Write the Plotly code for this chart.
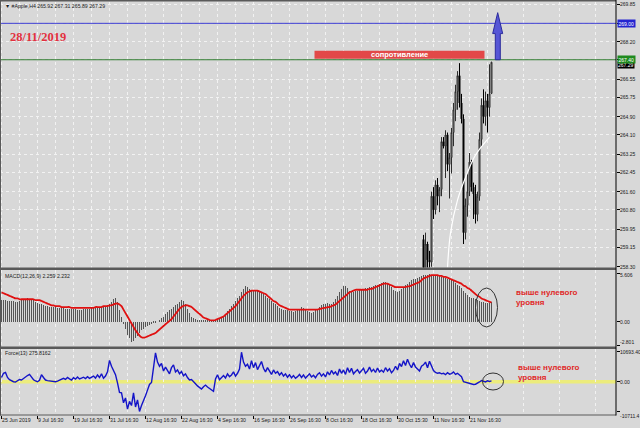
import plotly.graph_objects as go

# ---------------- data ----------------
# time axis labels (one label every 18 H4 bars)
tick_bars = [0, 18, 36, 54, 72, 90, 108, 126, 144, 162, 180, 198, 216, 234]
tick_labels = ["25 Jun 2019", "9 Jul 16:30", "19 Jul 16:30", "31 Jul 16:30",
               "12 Aug 16:30", "22 Aug 16:30", "4 Sep 16:30", "16 Sep 16:30",
               "26 Sep 16:30", "8 Oct 16:30", "18 Oct 16:30", "30 Oct 15:30",
               "11 Nov 16:30", "21 Nov 16:30"]

# price axis levels
price_levels = [269.85, 269.00, 268.20, 267.40, 266.55, 265.75, 264.90, 264.10,
                263.25, 262.45, 261.60, 260.80, 259.95, 259.15, 258.30]
macd_levels = [5.606, 0.0, -2.801]
macd_level_text = ["5.606", "0.00", "-2.801"]
force_levels = [10693.40, 0.0, -10711.4]
force_level_text = ["10693.40", "0.00", "-10711.4"]

# visible candles (bar index of the first one)
candle_start = 211
c_open = [259.5, 258.2, 259.3, 258.6, 258.5, 261.4, 260.8, 261.9, 261.4, 261.7,
          263.8, 263.6, 264.1, 262.8, 263.1, 264.2, 265.2, 266.0, 266.7, 265.5,
          264.8, 259.8, 261.0, 261.6, 262.9, 261.8, 261.5, 260.6, 261.4, 263.9,
          265.4, 264.9, 265.6, 265.3, 265.92]
c_high = [259.7, 259.8, 259.4, 259.0, 261.6, 261.8, 262.1, 262.2, 261.8, 264.0,
          264.0, 264.3, 264.2, 263.3, 264.4, 265.5, 266.3, 266.9, 267.25, 265.9,
          265.0, 261.3, 262.4, 263.3, 263.0, 262.0, 261.9, 261.6, 264.2, 265.7,
          266.1, 266.0, 265.9, 267.2, 267.31]
c_low = [257.9, 257.9, 258.0, 258.1, 258.3, 260.4, 260.6, 261.0, 260.7, 261.4,
         263.5, 262.2, 262.5, 261.3, 262.4, 263.6, 264.7, 265.2, 265.3, 264.6,
         259.3, 259.5, 260.5, 261.4, 261.6, 260.4, 260.2, 260.3, 261.2, 263.6,
         264.6, 264.5, 264.2, 264.9, 265.89]
c_close = [258.2, 259.3, 258.6, 258.5, 261.4, 260.8, 261.9, 261.4, 261.7, 263.8,
           263.6, 264.1, 262.8, 263.1, 264.2, 265.2, 266.0, 266.7, 265.5, 264.8,
           259.8, 261.0, 261.6, 262.9, 261.8, 261.5, 260.6, 261.4, 263.9, 265.4,
           264.9, 265.6, 265.3, 265.9, 267.29]

# white trend curve under the late-November rally
trend_bars = [223, 224.5, 228, 232.5, 237, 244]
trend_price = [258.25, 259.78, 261.23, 262.33, 263.21, 264.0]

# MACD(12,26,9) histogram
macd_hist = [
    2.5, 2.5, 2.5, 2.4, 2.4, 2.4, 2.4, 2.3, 2.3, 2.4,
    2.5, 2.6, 2.6, 2.7, 2.6, 2.6, 2.5,
    2.3, 2.2, 2.1, 2.0, 1.9,
    1.8, 1.8, 1.7, 1.7, 1.7, 1.7, 1.6, 1.6, 1.6, 1.6, 1.5, 1.5, 1.5, 1.5, 1.5, 1.5,
    1.4, 1.4, 1.4, 1.5, 1.5, 1.5, 1.5, 1.6, 1.6, 1.6, 1.6, 1.7, 1.7, 1.8, 1.8, 1.9, 2.0,
    2.3, 2.6, 2.7, 2.3,
    1.4, 0.6, -0.3, -0.9,
    -1.5, -1.9, -2.3, -2.2, -1.9, -1.6,
    -1.3, -1.0, -0.8, -0.6, -0.5, -0.4, -0.3, -0.2, -0.1, 0.0,
    0.2, 0.4, 0.6, 0.9, 1.1, 1.3, 1.5, 1.7, 1.9, 2.1, 2.3, 2.5, 2.4,
    2.0, 1.5, 1.0, 0.6, 0.4, 0.3, 0.2, 0.2, 0.1,
    0.1, 0.1, 0.2, 0.2, 0.2, 0.1, 0.1, 0.2, 0.3, 0.4,
    0.6, 0.9, 1.2, 1.5, 1.8, 2.1, 2.4, 2.7, 3.0, 3.4, 3.8, 4.1,
    4.0, 3.8, 3.7, 3.6, 3.6, 3.5, 3.4, 3.3, 3.2, 3.0,
    2.8, 2.6, 2.4, 2.2, 2.0, 1.8, 1.6, 1.5, 1.4, 1.3, 1.3, 1.2, 1.2, 1.1,
    1.2, 1.3, 1.5, 1.7, 1.6, 1.4, 1.2, 1.1, 1.0, 1.1, 1.3, 1.5,
    1.7, 1.9, 2.0, 2.1, 2.2, 2.0, 2.1, 2.3, 2.6, 3.0, 3.4, 3.8,
    4.1, 4.1, 3.9, 3.6, 3.5, 3.4,
    3.5, 3.6, 3.7, 3.7, 3.8, 3.9, 3.9, 4.0, 4.0, 4.1,
    4.2, 4.3, 4.4, 4.5, 4.6, 4.6, 4.5,
    4.3, 4.0, 3.7, 3.5, 3.4, 3.6,
    3.8, 4.0, 4.2, 4.4, 4.6, 4.8, 4.9, 5.0, 5.1,
    5.2, 5.3, 5.4, 5.4, 5.4, 5.5, 5.4, 5.4, 5.3, 5.3, 5.3,
    5.2, 5.2, 5.1, 5.0, 4.9, 4.8, 4.7, 4.5, 4.3, 4.1,
    3.9, 3.6, 3.3, 3.1, 2.9, 2.8, 2.7, 2.6,
    2.5, 2.4, 2.3, 2.3, 2.2, 2.2, 2.2, 2.259,
]

# MACD signal line
macd_signal = [
    3.4, 3.3, 3.2, 3.1, 3.0, 2.9, 2.8, 2.7, 2.7, 2.6, 2.6,
    2.6, 2.6, 2.6, 2.6, 2.6, 2.6, 2.5, 2.5, 2.5, 2.4, 2.3,
    2.2, 2.1, 2.0, 1.9, 1.9, 1.8, 1.8, 1.8, 1.7,
    1.7, 1.7, 1.7, 1.7, 1.6, 1.6, 1.6, 1.6, 1.6, 1.6, 1.6, 1.6, 1.6, 1.6, 1.6, 1.6,
    1.7, 1.7, 1.7, 1.7, 1.8, 1.8, 1.8, 1.9,
    1.9, 2.0, 2.1, 2.1, 2.0, 1.8,
    1.4, 1.0, 0.6, 0.2, -0.2, -0.6, -1.0, -1.3, -1.6, -1.8,
    -1.85, -1.8, -1.7, -1.6, -1.5, -1.4,
    -1.3, -1.1, -0.9, -0.7, -0.5, -0.3, -0.1, 0.1,
    0.3, 0.6, 0.9, 1.2, 1.5, 1.7, 1.85, 1.9,
    1.9, 1.8, 1.7, 1.5, 1.3, 1.1, 0.9, 0.7,
    0.5, 0.4, 0.3, 0.2, 0.15, 0.15, 0.2, 0.3, 0.4, 0.5,
    0.6, 0.8, 1.0, 1.2, 1.4, 1.6, 1.8, 2.1, 2.4, 2.7, 3.0, 3.2,
    3.4, 3.5, 3.6, 3.6, 3.6, 3.6, 3.5, 3.4,
    3.3, 3.2, 3.0, 2.8, 2.6, 2.4, 2.3, 2.1, 1.9, 1.8, 1.7, 1.6, 1.5, 1.4, 1.4,
    1.4, 1.4, 1.4, 1.4, 1.4, 1.4, 1.4, 1.4, 1.4, 1.4, 1.4, 1.4, 1.4, 1.5, 1.5,
    1.6, 1.6, 1.7, 1.7, 1.8, 1.9, 2.0, 2.2, 2.4, 2.6,
    2.8, 3.0, 3.2, 3.4, 3.5, 3.6, 3.7, 3.7, 3.7,
    3.7, 3.7, 3.7, 3.7, 3.8, 3.8, 3.9, 4.0, 4.1, 4.2, 4.3,
    4.4, 4.4, 4.4, 4.3, 4.2, 4.1, 4.0, 4.0, 4.0,
    4.0, 4.0, 4.0, 4.1, 4.1, 4.2, 4.3, 4.4, 4.5, 4.6, 4.8,
    5.0, 5.1, 5.2, 5.3, 5.4, 5.4, 5.4, 5.4, 5.3, 5.3,
    5.2, 5.2, 5.1, 5.0, 4.9, 4.8, 4.7, 4.6, 4.5, 4.4,
    4.2, 4.1, 3.9, 3.8, 3.6, 3.4, 3.2, 3.0, 2.9, 2.7, 2.6, 2.5, 2.4, 2.3, 2.232,
]

# Force Index(13)
force = [
    1500, 3000, 3300, 1500, 700, 200, 0, -100, 300, 800,
    600, 1200, 1500, 2200, 2600, 1500, 700, 300, 0, 500,
    2500, 1500, 600, 400, 300, 200, 100, 0, 200, 500,
    900, 1200, 800, 1500, 1000, 600, 1400, 900, 1700, 1000,
    1300, 1600, 1100, 1800, 1200, 1500, 2000, 1300, 2400, 1500,
    2800, 1200, 2000, 3500, 7600, 5500, 3700, 2500, -400, -3800,
    -4000, -7500, -5800, -9800, -7000, -8500, -4000, -9000, -6500, -10600,
    -8500, -7000, -5000, -3000, -1000, -300, 6000, 10300, 7000, 5500,
    6500, 3800, 5200, 4000, 2800, 5000, 6000, 3500, 4200, 2800,
    3600, 2100, 2800, 1500, 600, 800, 200, -700, -1500, -2100,
    -2600, -1800, -1200, -1900, -2300, -2800, -3400, 1000, 2500, 700,
    1500, 2200, 1300, 2800, 1800, 2400, 3500, 2000, 3000, 4500,
    10500, 7000, 5500, 6200, 4500, 7500, 5000, 6800, 4300, 5800,
    7200, 4800, 3500, 5000, 3800, 2600, 4200, 3000, 3600, 2400,
    3200, 2000, 2800, 1600, 2500, 1400, 2200, 1200, 1800, 2600,
    1500, 2400, 1300, 2000, 2800, 1700, 2300, 1400, 2600, 3200,
    2000, 2800, 1700, 3500, 2400, 4000, 2800, 3500, 2200, 4500,
    3000, 4200, 2600, 5000, 3300, 4800, 2800, 3600, 4300, 3100,
    4000, 4800, 3000, 3800, 5200, 3600, 4400, 3300, 4900, 3500,
    4100, 3400, 5000, 3800, 4600, 3200, 4000, 5500, 4200, 6500,
    5400, 7500, 5800, 8000, 6200, 5000, 6800, 5200, 4500, 3800,
    5500, 6000, 7000, 5000, 7300, 5300, 4000, 3300, 3000, 3200,
    2800, 3000, 2500, 3200, 2700, 2900, 3500, 2600, 3000, 2400,
    1800, 0, -200, -400, -700, -900, -1000, -900, -600, -100,
    400, 200, -100, 300, 100, 275.8162,
]

support_level = 267.40
target_level = 269.00

# ---------------- layout helpers ----------------
W, H = 640, 428
BG = "#d8d8d8"
GRID = "#f2f2f2"
XD = 616 / W          # right edge of the plotting area


def fy(py):
    return 1 - py / H


def fx(px):
    return px / W


MAIN_DOM = [fy(267.5), fy(1.5)]
MACD_DOM = [fy(346.5), fy(270)]
FORCE_DOM = [fy(414.5), fy(349)]

MAIN_RANGE = [258.267, 269.96]
MACD_RANGE = [-2.870, 5.988]
FORCE_RANGE = [-11692, 11656]
X_RANGE = [-0.75, 307.25]

bars = list(range(len(macd_hist)))
candle_x = [candle_start + k for k in range(len(c_open))]

FONT = "Liberation Sans"
LABEL_FONT = dict(family=FONT, size=5, color="#1a1a1a")

fig = go.Figure()

fig.add_trace(go.Candlestick(
    x=candle_x, open=c_open, high=c_high, low=c_low, close=c_close,
    xaxis="x3", yaxis="y",
    increasing=dict(line=dict(color="#2e2e2e", width=1), fillcolor="#a6a6a6"),
    decreasing=dict(line=dict(color="#000000", width=1), fillcolor="#000000"),
    whiskerwidth=0, showlegend=False, hoverinfo="skip",
))
fig.add_trace(go.Scatter(
    x=trend_bars, y=trend_price, xaxis="x3", yaxis="y", mode="lines",
    line=dict(color="#ffffff", width=1.2, shape="spline"),
    showlegend=False, hoverinfo="skip",
))

fig.add_trace(go.Bar(
    x=bars, y=macd_hist, xaxis="x2", yaxis="y2", width=0.5,
    marker=dict(color="#555555", line=dict(width=0)),
    showlegend=False, hoverinfo="skip",
))
fig.add_trace(go.Scatter(
    x=bars, y=macd_signal, xaxis="x2", yaxis="y2", mode="lines",
    line=dict(color="#e01010", width=1.8, shape="spline"),
    showlegend=False, hoverinfo="skip",
))

fig.add_trace(go.Scatter(
    x=bars, y=force, xaxis="x", yaxis="y3", mode="lines",
    line=dict(color="#1414c8", width=1.4),
    showlegend=False, hoverinfo="skip",
))

minor_grid = [v for v in range(9, 308, 18)]
xcommon = dict(range=X_RANGE, domain=[0, XD], showgrid=True, automargin=False,
               gridcolor=GRID, griddash="dot", gridwidth=1, zeroline=False,
               tickmode="array", tickvals=tick_bars,
               minor=dict(tickmode="array", tickvals=minor_grid, showgrid=True,
                          gridcolor=GRID, griddash="dot", gridwidth=1, ticks=""))
ycommon = dict(side="right", automargin=False, showticklabels=False,
               tickmode="array", ticks="outside", ticklen=3,
               tickcolor="#000000", zeroline=False)

fig.update_layout(
    width=W, height=H, margin=dict(l=0, r=0, t=0, b=0, autoexpand=False),
    paper_bgcolor=BG, plot_bgcolor=BG, bargap=0,
    font=dict(family=FONT, size=6, color="#1a1a1a"),
    xaxis=dict(**xcommon, anchor="y3", ticktext=tick_labels, showticklabels=True,
               ticks="outside", ticklen=3, tickcolor="#000000", tickwidth=1,
               tickangle=0, ticklabelposition="outside right",
               tickfont=dict(family=FONT, size=5.2, color="#1a1a1a")),
    xaxis2=dict(**xcommon, anchor="y2", matches="x", showticklabels=False, ticks=""),
    xaxis3=dict(**xcommon, anchor="y", matches="x", showticklabels=False, ticks="",
                rangeslider=dict(visible=False)),
    yaxis=dict(**ycommon, domain=MAIN_DOM, range=MAIN_RANGE, anchor="x3",
               tickvals=price_levels, showgrid=True, gridcolor=GRID, griddash="dot"),
    yaxis2=dict(**ycommon, domain=MACD_DOM, range=MACD_RANGE, anchor="x2",
                tickvals=macd_levels, showgrid=False),
    yaxis3=dict(**ycommon, domain=FORCE_DOM, range=FORCE_RANGE, anchor="x",
                tickvals=force_levels, showgrid=False),
)

shapes = []
# zero level of the Force Index
shapes.append(dict(type="line", xref="paper", yref="y3", x0=0, x1=XD, y0=0, y1=0,
                   line=dict(color="#ecec7c", width=3.5), layer="below"))
# horizontal levels
shapes.append(dict(type="line", xref="paper", yref="y", x0=0, x1=XD,
                   y0=target_level, y1=target_level,
                   line=dict(color="#3c3cd2", width=1)))
shapes.append(dict(type="line", xref="paper", yref="y", x0=0, x1=XD,
                   y0=support_level, y1=support_level,
                   line=dict(color="#2f7a2f", width=1)))
# resistance band
shapes.append(dict(type="rect", xref="x3", yref="y", x0=156.5, x1=241.5,
                   y0=267.44, y1=267.80, fillcolor="#e24848",
                   line=dict(width=0)))
# up arrow
ax0, ax1, ah0, ah1 = 246.9, 249.4, 245.6, 250.6
shapes.append(dict(type="path", xref="x3", yref="y",
                   path=(f"M {ax0},{support_level} L {ax0},268.55 L {ah0},268.55 "
                         f"L {(ah0 + ah1) / 2},269.47 L {ah1},268.55 L {ax1},268.55 "
                         f"L {ax1},{support_level} Z"),
                   fillcolor="#5656d6", line=dict(color="#2c2c9c", width=1)))
# highlight ellipses
shapes.append(dict(type="circle", xref="x2", yref="y2", x0=237, x1=248,
                   y0=-0.61, y1=3.9, line=dict(color="#333333", width=1)))
shapes.append(dict(type="circle", xref="x", yref="y3", x0=240.5, x1=251,
                   y0=-2960, y1=3100, line=dict(color="#333333", width=1)))
# window frame and separators
for y0, y1 in [(0, 1.5), (267.5, 270), (346.5, 349), (414.5, 415.5)]:
    shapes.append(dict(type="rect", xref="paper", yref="paper", x0=0, x1=XD,
                       y0=fy(y1), y1=fy(y0), fillcolor="#5a5a5a", line=dict(width=0)))
shapes.append(dict(type="rect", xref="paper", yref="paper", x0=0, x1=fx(1),
                   y0=fy(415.5), y1=1, fillcolor="#5a5a5a", line=dict(width=0)))
shapes.append(dict(type="line", xref="paper", yref="paper", x0=XD, x1=XD,
                   y0=fy(415.5), y1=1, line=dict(color="#000000", width=1)))
fig.update_layout(shapes=shapes)

ann = []
LX = fx(618)
tagged = {target_level, support_level}
for v in price_levels:
    if v in tagged:
        continue
    ann.append(dict(xref="paper", yref="y", x=LX, y=v, text=f"{v:.2f}",
                    showarrow=False, xanchor="left", yanchor="middle",
                    font=LABEL_FONT))
for v, t in zip(macd_levels, macd_level_text):
    ann.append(dict(xref="paper", yref="y2", x=LX, y=v, text=t, showarrow=False,
                    xanchor="left", yanchor="middle",
                    yshift=(4 if v < 0 else (-2 if v > 0 else 0)),
                    font=LABEL_FONT))
for v, t in zip(force_levels, force_level_text):
    ann.append(dict(xref="paper", yref="y3", x=LX, y=v, text=t, showarrow=False,
                    xanchor="left", yanchor="middle",
                    yshift=(-4 if v < 0 else 0),
                    font=LABEL_FONT))

# price tags on the right axis
ann.append(dict(xref="paper", yref="y", x=fx(617), y=c_close[-1], yshift=-3,
                text="267.29", showarrow=False, xanchor="left", yanchor="middle",
                bgcolor="#000000", borderpad=0,
                font=dict(family=FONT, size=5, color="#ffffff")))
ann.append(dict(xref="paper", yref="y", x=fx(617), y=target_level,
                text=f"{target_level:.2f}", showarrow=False, xanchor="left",
                yanchor="middle", bgcolor="#2424d0", borderpad=0.5,
                font=dict(family=FONT, size=5, color="#ffffff")))
ann.append(dict(xref="paper", yref="y", x=fx(617), y=support_level,
                text=f"{support_level:.2f}", showarrow=False, xanchor="left",
                yanchor="middle", bgcolor="#1f8a1f", borderpad=0.5,
                font=dict(family=FONT, size=5, color="#ffffff")))

# window captions
ann.append(dict(xref="paper", yref="paper", x=fx(3), y=fy(6),
                text="▼ #Apple,H4 265.92 267.31 265.89 267.29", showarrow=False,
                xanchor="left", yanchor="middle",
                font=dict(family=FONT, size=5.2, color="#1a1a1a")))
ann.append(dict(xref="paper", yref="paper", x=fx(3), y=fy(275.5),
                text="MACD(12,26,9) 2.259 2.232", showarrow=False,
                xanchor="left", yanchor="middle",
                font=dict(family=FONT, size=5.2, color="#1a1a1a")))
ann.append(dict(xref="paper", yref="paper", x=fx(3), y=fy(352.5),
                text="Force(13) 275.8162", showarrow=False,
                xanchor="left", yanchor="middle",
                font=dict(family=FONT, size=5.2, color="#1a1a1a")))

# chart notes
ann.append(dict(xref="paper", yref="paper", x=fx(8), y=fy(37),
                text="<b>28/11/2019</b>", showarrow=False,
                xanchor="left", yanchor="middle",
                font=dict(family="Liberation Serif", size=12.5, color="#e3303e")))
ann.append(dict(xref="x3", yref="y", x=199, y=267.62,
                text="<b>сопротивление</b>", showarrow=False,
                xanchor="center", yanchor="middle",
                font=dict(family=FONT, size=7.5, color="#ffffff")))
ann.append(dict(xref="paper", yref="paper", x=fx(514), y=fy(286),
                text="<b>выше нулевого<br>уровня</b>", showarrow=False,
                xanchor="left", yanchor="top", align="left",
                font=dict(family=FONT, size=8, color="#e02828")))
ann.append(dict(xref="paper", yref="paper", x=fx(516), y=fy(361),
                text="<b>выше нулевого<br>уровня</b>", showarrow=False,
                xanchor="left", yanchor="top", align="left",
                font=dict(family=FONT, size=8, color="#e02828")))
fig.update_layout(annotations=ann)

fig.write_html("out.html")
